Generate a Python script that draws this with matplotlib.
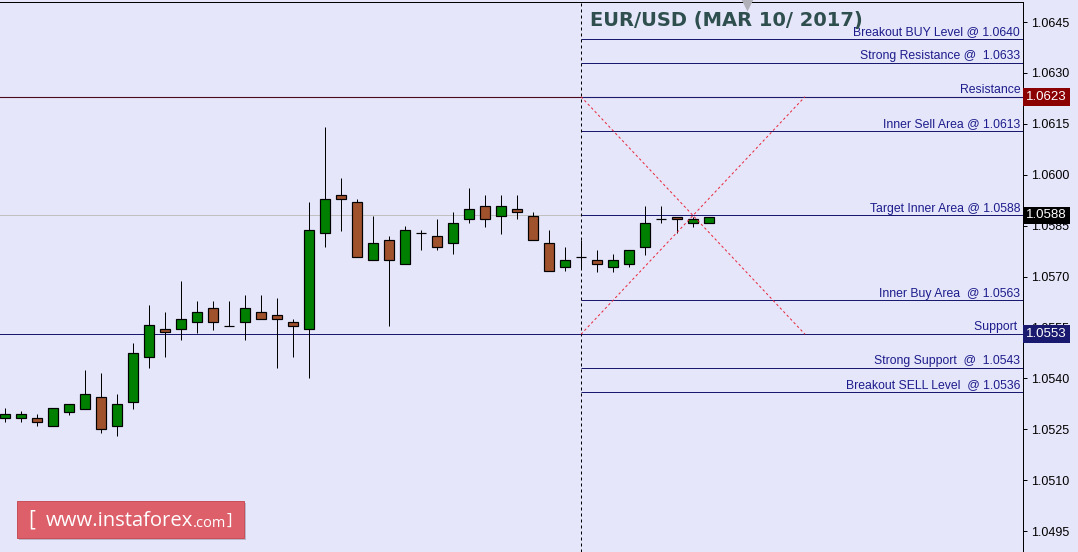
import matplotlib
matplotlib.use('Agg')
import matplotlib.pyplot as plt
import matplotlib.transforms as mtrans
from matplotlib.patches import FancyBboxPatch

# candles (EUR/USD, oldest first)
opens = [1.05282, 1.05282, 1.05282, 1.05261, 1.05302, 1.05311, 1.05345, 1.05261, 1.05331, 1.05464,
         1.05545, 1.05545, 1.05565, 1.05607, 1.05555, 1.05565, 1.05595, 1.05586, 1.05565, 1.05545,
         1.05828, 1.05939, 1.05919, 1.05748, 1.05807, 1.05736, 1.05828, 1.05819, 1.05798, 1.05869,
         1.05907, 1.05878, 1.05898, 1.05878, 1.05798, 1.05727, 1.05757, 1.05749, 1.05727, 1.05736,
         1.05786, 1.05869, 1.05877, 1.05857, 1.05857]
highs = [1.05312, 1.05304, 1.05296, 1.05312, 1.05324, 1.05425, 1.05415, 1.05353, 1.05503, 1.05616,
         1.05596, 1.05687, 1.05628, 1.05628, 1.05628, 1.05646, 1.05646, 1.05637, 1.05574, 1.05919,
         1.06142, 1.05990, 1.05928, 1.05878, 1.05819, 1.05848, 1.05836, 1.05871, 1.05889, 1.05960,
         1.05939, 1.05939, 1.05939, 1.05889, 1.05836, 1.05786, 1.05808, 1.05778, 1.05767, 1.05778,
         1.05908, 1.05908, 1.05877, 1.05877, 1.05877]
lows = [1.05272, 1.05272, 1.05261, 1.05261, 1.05292, 1.05311, 1.05240, 1.05231, 1.05311, 1.05432,
        1.05464, 1.05514, 1.05535, 1.05544, 1.05555, 1.05514, 1.05574, 1.05432, 1.05464, 1.05402,
        1.05786, 1.05835, 1.05757, 1.05748, 1.05555, 1.05736, 1.05777, 1.05777, 1.05766, 1.05857,
        1.05847, 1.05826, 1.05869, 1.05807, 1.05716, 1.05716, 1.05725, 1.05714, 1.05714, 1.05727,
        1.05764, 1.05857, 1.05828, 1.05847, 1.05857]
closes = [1.05294, 1.05294, 1.05273, 1.05312, 1.05324, 1.05353, 1.05252, 1.05324, 1.05474, 1.05556,
          1.05536, 1.05574, 1.05595, 1.05565, 1.05555, 1.05607, 1.05574, 1.05574, 1.05555, 1.05836,
          1.05928, 1.05928, 1.05757, 1.05798, 1.05748, 1.05836, 1.05828, 1.05786, 1.05857, 1.05898,
          1.05869, 1.05907, 1.05889, 1.05807, 1.05716, 1.05748, 1.05757, 1.05736, 1.05749, 1.05778,
          1.05857, 1.05869, 1.05869, 1.05869, 1.05877]

level_labels = ['Breakout BUY Level @ 1.0640', 'Strong Resistance @  1.0633', 'Resistance',
                'Inner Sell Area @ 1.0613', 'Target Inner Area @ 1.0588', 'Inner Buy Area  @ 1.0563',
                'Support ', 'Strong Support  @  1.0543', 'Breakout SELL Level  @ 1.0536']
level_values = [1.0640, 1.0633, 1.0623, 1.0613, 1.0588, 1.0563, 1.0553, 1.0543, 1.0536]
level_start = 36          # candle index where the levels start
cross_end = 50            # end of the red diagonal lines
shift_mark = 46.4         # little grey triangle on top
resistance = 1.0623
support = 1.0553
bid = 1.0588
yticks = [1.0645, 1.0630, 1.0615, 1.0600, 1.0585, 1.0570, 1.0555, 1.0540, 1.0525, 1.0510, 1.0495]
title = 'EUR/USD (MAR 10/ 2017)'

bg = '#e6e6fa'
navy = '#191970'
text_blue = '#1c1c8c'
px = 0.72  # one pixel in points

fig = plt.figure(figsize=(10.78, 5.52), dpi=100, facecolor=bg)
ax = fig.add_axes([0, 0, 1023 / 1078, 550 / 552])
ax.set_facecolor(bg)
ax.set_xlim(-0.3125, 63.625)
ax.set_ylim(1.048885, 1.065090)
x_right = ax.get_xlim()[1]

# candles
for i in range(len(opens)):
    o, h, l, c = opens[i], highs[i], lows[i], closes[i]
    ax.vlines(i, l, h, color='black', lw=px, zorder=3)
    col = '#008000' if c > o else '#a0522d'
    ax.bar(i, abs(c - o), bottom=min(o, c), width=0.64, color=col,
           edgecolor='black', linewidth=px * 1.2, zorder=4)

# horizontal lines across the whole chart
ax.axhline(bid, color='#c0c0c0', lw=px, zorder=1)
ax.axhline(resistance, color='#4a0a1e', lw=px * 1.1, zorder=1)
ax.axhline(support, color=navy, lw=px, zorder=1)

# levels
ax.hlines(level_values, level_start, x_right, color=navy, lw=px, zorder=2)
for lab, val in zip(level_labels, level_values):
    ax.annotate(lab, xy=(1.0, val), xycoords=('axes fraction', 'data'),
                xytext=(-2, 0.6), textcoords='offset points', ha='right', va='bottom',
                color=text_blue, fontsize=8.8, family='Liberation Sans', zorder=6)

ax.axvline(level_start, color='black', lw=px, ls=(0, (3, 3)), zorder=2)
ax.plot([level_start, cross_end], [resistance, support], color='#e8283c', lw=px,
        ls=(0, (2.5, 2.5)), zorder=5)
ax.plot([level_start, cross_end], [support, resistance], color='#e8283c', lw=px,
        ls=(0, (2.5, 2.5)), zorder=5)

top_tr = mtrans.blended_transform_factory(ax.transData, ax.transAxes)
ax.annotate(title, xy=(level_start + 0.55, 1.0), xycoords=top_tr,
            xytext=(0, -6.5), textcoords='offset points',
            ha='left', va='top', fontsize=14, fontweight='bold', color='#2f4f4f',
            family='DejaVu Sans', zorder=7)
ax.plot([shift_mark], [0.994], marker='v', ms=9, color='#b0b0b8', mec='none',
        transform=top_tr, clip_on=False, zorder=8)

# axis
for s in ['left', 'bottom']:
    ax.spines[s].set_visible(False)
for s in ['right', 'top']:
    ax.spines[s].set_color('black')
    ax.spines[s].set_linewidth(px)
ax.set_xticks([])
ax.yaxis.tick_right()
ax.set_yticks(yticks)
ax.set_yticklabels([f'{v:.4f}' for v in yticks])
ax.tick_params(axis='y', direction='out', length=3, width=px, pad=3,
               labelsize=9, labelcolor='black')
for t in ax.get_yticklabels():
    t.set_family('Liberation Sans')

# price tags
tr = mtrans.blended_transform_factory(ax.transAxes, ax.transData)
for val, fc in [(resistance, '#8b0000'), (bid, 'black'), (support, navy)]:
    ax.text(1.003, val, f'{val:.4f}', transform=tr, ha='left', va='center', color='white',
            fontsize=9.5, family='Liberation Sans', clip_on=False, zorder=10,
            bbox=dict(boxstyle='square,pad=0.22', fc=fc, ec='none'))

# logo
W, H = 1078, 552
shadow = FancyBboxPatch((19 / W, 1 - 540 / H), 227 / W, 37 / H, boxstyle='square,pad=0',
                        transform=fig.transFigure, fc='#b8b8c8', ec='none', zorder=1)
box = FancyBboxPatch((17 / W, 1 - 538 / H), 227 / W, 37 / H, boxstyle='square,pad=0',
                     transform=fig.transFigure, fc='#dc5f6a', ec='#c8505a', lw=px, zorder=2)
fig.patches.extend([shadow, box])
fig.text(28 / W, 1 - 520 / H, '[', color='white', fontsize=15, family='Open Sans',
         va='center', ha='left', zorder=3)
t1 = fig.text(46 / W, 1 - 521 / H, 'www.instaforex', color='white', fontsize=14.6,
              family='Open Sans', va='center', ha='left', zorder=3)
fig.canvas.draw()
bb = t1.get_window_extent()
fig.text(bb.x1 / W, 1 - 523.5 / H, '.com', color='white', fontsize=10.5, family='Open Sans',
         va='center', ha='left', zorder=3)
fig.text(227 / W, 1 - 521 / H, ']', color='white', fontsize=12, family='Open Sans',
         va='center', ha='left', zorder=3)

fig.savefig('out.png', dpi=100, facecolor=bg)
